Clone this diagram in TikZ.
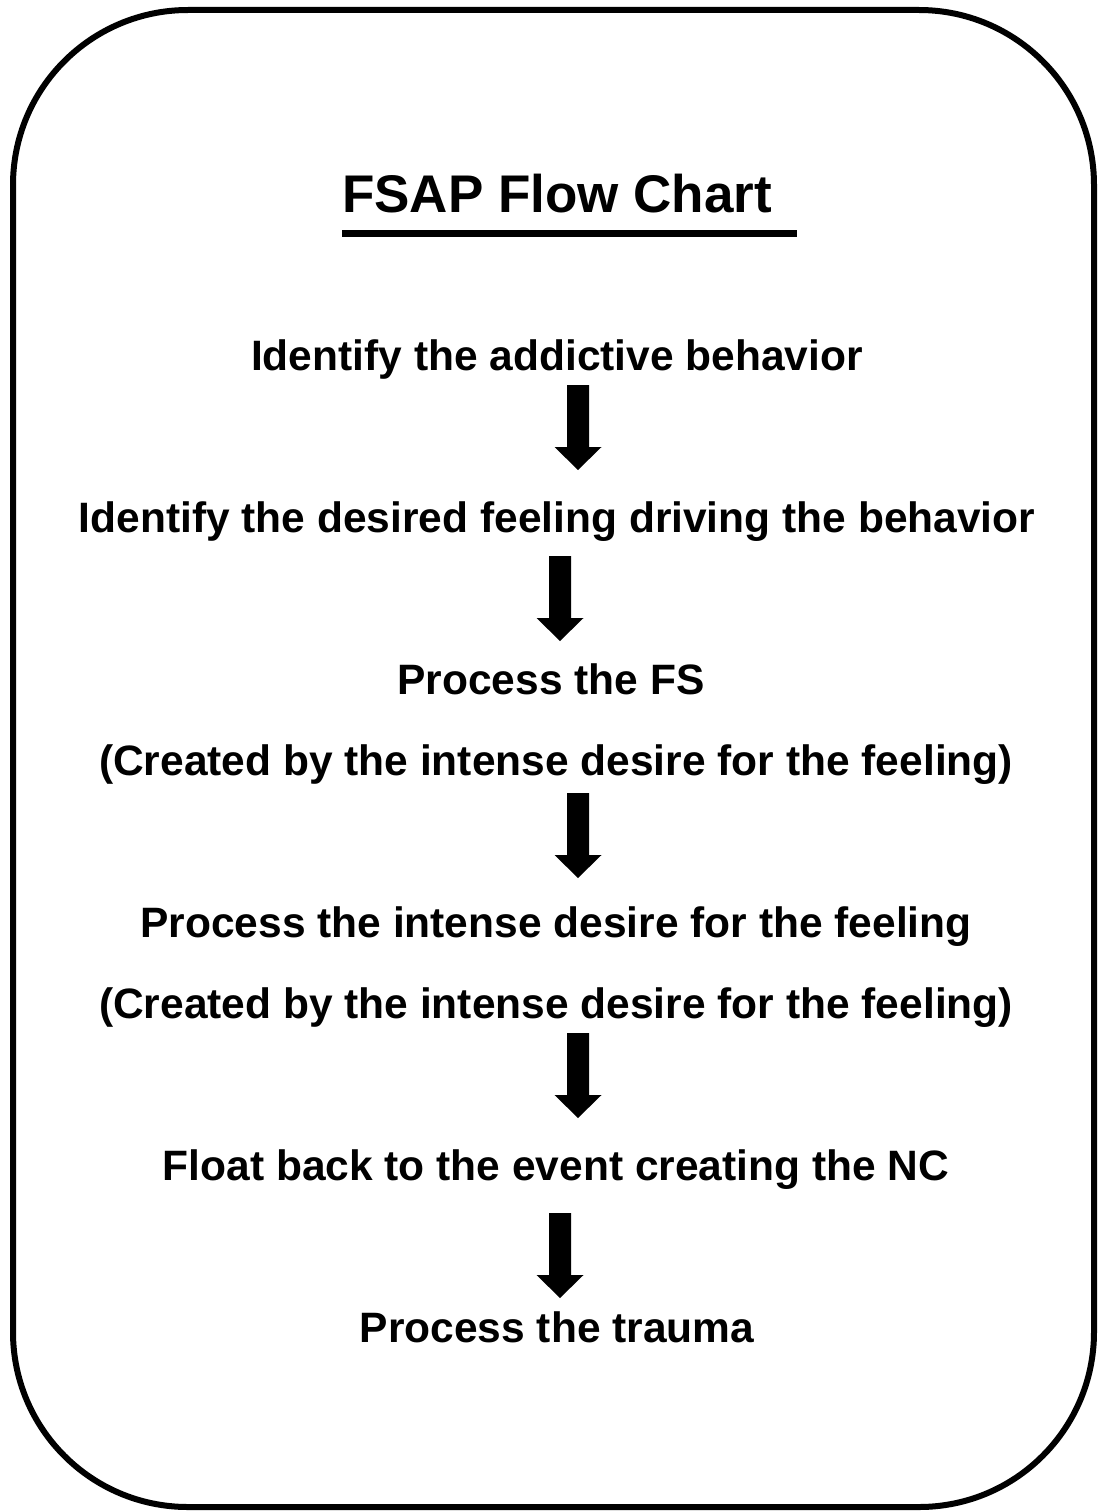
\documentclass[tikz,border=0pt]{standalone}
\usepackage{fontspec}
\setmainfont{Liberation Sans}
\usepackage{tikz}
\usetikzlibrary{calc}

\begin{document}
\begin{tikzpicture}
         [x=1pt,y=-1pt,every node/.style={anchor=base,inner sep=0pt,
          font=\bfseries\fontsize{42.5}{50}\selectfont}]
         \useasboundingbox[fill=white] (0,0) rectangle (1098,1512);
         \draw[line width=6pt,rounded corners=175pt] (13,10) rectangle (1094,1507);
         \node[font=\bfseries\fontsize{53}{60}\selectfont] (title) at (557,212) {FSAP Flow Chart};
         \draw[line width=7pt] (342,233.5) -- (797,233.5);
         \node (s1) at (557,370)  {Identify the addictive behavior};
         \node (s2) at (557,532)  {Identify the desired feeling driving the behavior};
         \node (s3) at (551,694)  {Process the FS};
         \node (s3b) at (556,775) {(Created by the intense desire for the feeling)};
         \node (s4) at (556,937)  {Process the intense desire for the feeling};
         \node (s4b) at (556,1018) {(Created by the intense desire for the feeling)};
         \node (s5) at (556,1180) {Float back to the event creating the NC};
         \node (s6) at (557,1342) {Process the trauma};
         \foreach \from/\x/\gap in {s1/578/15, s2/560/24, s3b/578/18, s4b/578/15, s5/560/33}
            \fill ($(\from.base -| \x,0)+(-11,\gap)$) -- ++(22,0) -- ++(0,62) -- ++(12.5,0)
               -- ++(-23.5,23) -- ++(-23.5,-23) -- ++(12.5,0) -- cycle;
       \end{tikzpicture}
\end{document}
